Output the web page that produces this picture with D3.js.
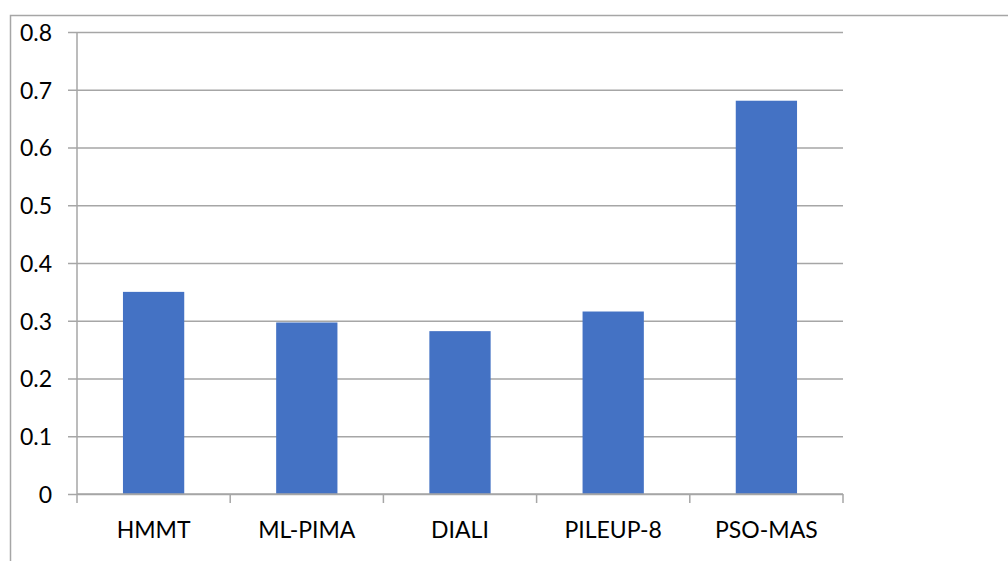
<!DOCTYPE html>
<html>
<head>
<meta charset="utf-8">
<script src="https://d3js.org/d3.v7.min.js"></script>
<style>
  html, body { margin: 0; padding: 0; background: #fff; }
  svg { display: block; }
</style>
</head>
<body>
<script>
// Method names and their scores
const categories = ["HMMT", "ML-PIMA", "DIALI", "PILEUP-8", "PSO-MAS"];
const scores = [0.35, 0.297, 0.282, 0.316, 0.681];
const yTicks = [0, 0.1, 0.2, 0.3, 0.4, 0.5, 0.6, 0.7, 0.8];

const W = 1008, H = 561;
const margin = { left: 77, right: 1008 - 843, top: 32, bottom: 561 - 494 };
const innerW = W - margin.left - margin.right;
const innerH = H - margin.top - margin.bottom;

const svg = d3.select("body").append("svg")
  .attr("width", W).attr("height", H);

// outer frame (top and left edges visible)
svg.append("path")
  .attr("d", `M10.5,${H} V15.5 H${W}`)
  .attr("fill", "none").attr("stroke", "#a6a6a6").attr("stroke-width", 1.5);

const g = svg.append("g").attr("transform", `translate(${margin.left},${margin.top})`);

const x = d3.scaleBand().domain(categories).range([0, innerW])
  .paddingInner(0.6).paddingOuter(0.3);
const y = d3.scaleLinear().domain([0, 0.8]).range([innerH, 0]);

const font = "Lato, 'Open Sans', sans-serif";
const fontSize = "23px";

// horizontal gridlines with outward ticks
const yAxis = d3.axisLeft(y).tickValues(yTicks)
  .tickSize(-innerW).tickSizeOuter(0)
  .tickFormat(d => d === 0 ? "0" : d3.format(".1f")(d));
const ya = g.append("g").call(yAxis);
ya.select(".domain").remove();
ya.selectAll(".tick line")
  .attr("x1", -9)
  .attr("stroke", "#a6a6a6").attr("stroke-width", 1.5);
ya.selectAll(".tick text")
  .attr("x", -25).attr("dy", "0.36em")
  .style("font-family", font).style("font-size", fontSize).attr("fill", "#000");

// vertical axis line
g.append("line")
  .attr("x1", 0).attr("x2", 0).attr("y1", 0).attr("y2", innerH)
  .attr("stroke", "#a6a6a6").attr("stroke-width", 1.5);

// bars
g.selectAll("rect.bar").data(categories).join("rect")
  .attr("class", "bar")
  .attr("x", d => x(d))
  .attr("width", x.bandwidth())
  .attr("y", (d, i) => y(scores[i]))
  .attr("height", (d, i) => innerH - y(scores[i]))
  .attr("fill", "#4472c4");

// category axis with ticks at band boundaries
const xa = g.append("g").attr("transform", `translate(0,${innerH})`);
xa.append("line").attr("x1", 0).attr("x2", innerW)
  .attr("stroke", "#a6a6a6").attr("stroke-width", 1.5);
const boundaries = d3.range(categories.length + 1).map(i => i * innerW / categories.length);
xa.selectAll("line.tk").data(boundaries).join("line")
  .attr("class", "tk")
  .attr("x1", d => d).attr("x2", d => d).attr("y1", 0).attr("y2", 9)
  .attr("stroke", "#a6a6a6").attr("stroke-width", 1.5);
xa.selectAll("text").data(categories).join("text")
  .attr("x", d => x(d) + x.bandwidth() / 2)
  .attr("y", 44)
  .attr("text-anchor", "middle")
  .style("font-family", font).style("font-size", fontSize).attr("fill", "#000")
  .text(d => d);
</script>
</body>
</html>
